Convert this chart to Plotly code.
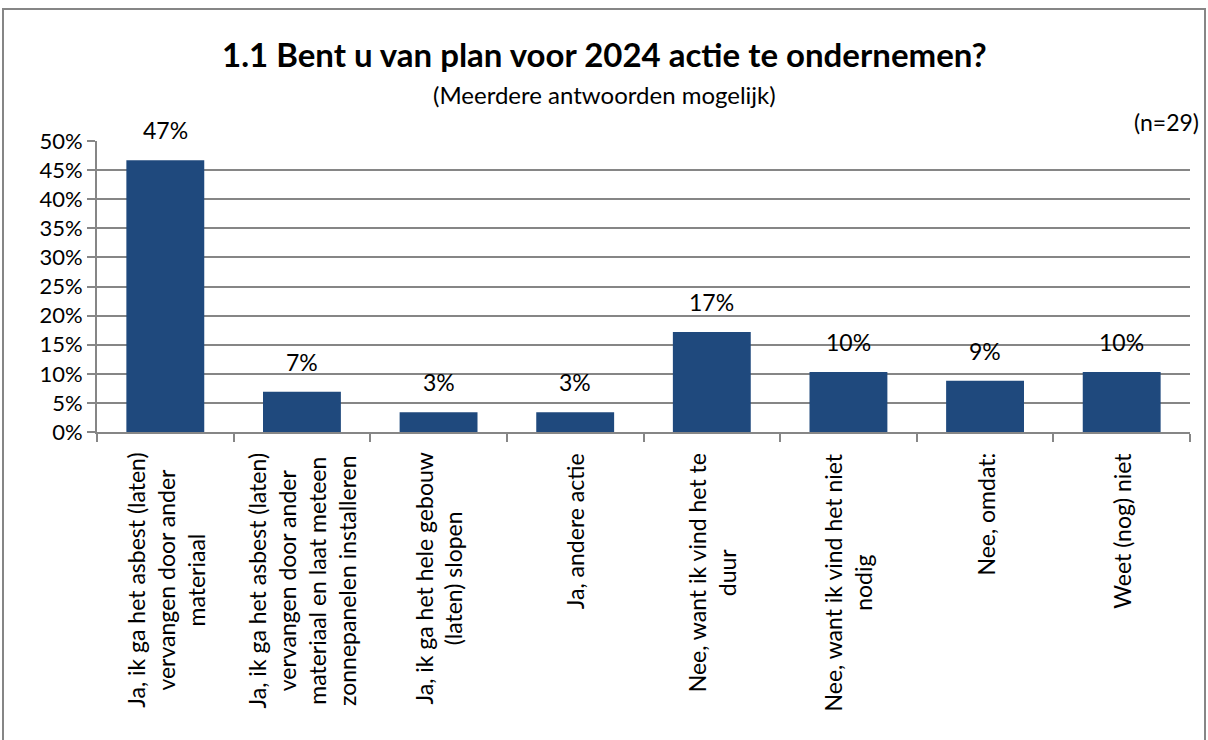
import plotly.graph_objects as go

categories = [
    "Ja, ik ga het asbest (laten)<br>vervangen door ander<br>materiaal",
    "Ja, ik ga het asbest (laten)<br>vervangen door ander<br>materiaal en laat meteen<br>zonnepanelen installeren",
    "Ja, ik ga het hele gebouw<br>(laten) slopen",
    "Ja, andere actie",
    "Nee, want ik vind het te<br>duur",
    "Nee, want ik vind het niet<br>nodig",
    "Nee, omdat:",
    "Weet (nog) niet",
]
values = [46.7, 6.9, 3.4, 3.4, 17.2, 10.3, 8.8, 10.3]
value_labels = ["47%", "7%", "3%", "3%", "17%", "10%", "9%", "10%"]
y_ticks = [0, 5, 10, 15, 20, 25, 30, 35, 40, 45, 50]
y_tick_labels = [f"{v}%" for v in y_ticks]

FONT = "Lato, 'Open Sans', sans-serif"
W, H = 1208, 740
ML, MR, MT, MB = 97, 18, 141, 308
PW, PH = W - ML - MR, H - MT - MB

xs = list(range(len(categories)))

fig = go.Figure()
fig.add_trace(go.Bar(
    x=xs, y=values, width=0.57,
    marker=dict(color="#1F497D", line=dict(width=0)),
    hoverinfo="skip",
))

annotations = []
for i, (v, lab) in enumerate(zip(values, value_labels)):
    annotations.append(dict(
        x=i, xref="x", y=v, yref="y", text=lab, showarrow=False,
        xanchor="center", yanchor="bottom", yshift=14,
        font=dict(size=23, color="#000000", family=FONT),
    ))
for i, c in enumerate(categories):
    annotations.append(dict(
        x=i, xref="x", y=-19 / PH, yref="paper",
        text=c, showarrow=False, textangle=-90,
        xanchor="center", yanchor="top", align="center",
        font=dict(size=23, color="#000000", family=FONT),
    ))
cx = (W / 2 - ML) / PW
annotations.append(dict(
    x=cx, xref="paper", y=(H - MB - 54) / PH, yref="paper",
    text="<b>1.1 Bent u van plan voor 2024 actie te ondernemen?</b>", showarrow=False,
    xanchor="center", yanchor="middle",
    font=dict(size=33, color="#000000", family=FONT),
))
annotations.append(dict(
    x=cx, xref="paper", y=(H - MB - 95) / PH, yref="paper",
    text="(Meerdere antwoorden mogelijk)", showarrow=False,
    xanchor="center", yanchor="middle",
    font=dict(size=24, color="#000000", family=FONT),
))
annotations.append(dict(
    x=(1201 - ML) / PW, xref="paper", y=(H - MB - 122) / PH, yref="paper",
    text="(n=29)", showarrow=False,
    xanchor="right", yanchor="middle",
    font=dict(size=23, color="#000000", family=FONT),
))

fig.update_layout(
    width=W, height=H,
    margin=dict(l=ML, r=MR, t=MT, b=MB, pad=0),
    paper_bgcolor="white", plot_bgcolor="white",
    showlegend=False,
    annotations=annotations,
    font=dict(family=FONT, size=22, color="#000000"),
    shapes=[dict(
        type="rect", xref="paper", yref="paper",
        x0=(3 - ML) / PW, x1=(1205 - ML) / PW,
        y0=(H - MB - 760) / PH, y1=(H - MB - 9) / PH,
        line=dict(color="#868686", width=2), fillcolor="rgba(0,0,0,0)", layer="below",
    )],
)
fig.update_xaxes(
    range=[-0.5, len(categories) - 0.5],
    tickmode="array", tickvals=[i - 0.5 for i in range(len(categories) + 1)],
    ticktext=[""] * (len(categories) + 1),
    ticks="outside", ticklen=8, tickcolor="#868686", tickwidth=2,
    showline=True, linecolor="#868686", linewidth=2,
    showgrid=False, zeroline=False,
)
fig.update_yaxes(
    range=[0, 50],
    tickmode="array", tickvals=y_ticks, ticktext=y_tick_labels,
    ticks="outside", ticklen=8, tickcolor="#868686", tickwidth=2,
    showline=True, linecolor="#868686", linewidth=2,
    showgrid=True, gridcolor="#868686", gridwidth=2,
    zeroline=False,
    tickfont=dict(size=22, color="#000000", family=FONT),
)

fig.write_html("out.html", config={"displayModeBar": False},
               post_script="document.body.style.margin='0';")
